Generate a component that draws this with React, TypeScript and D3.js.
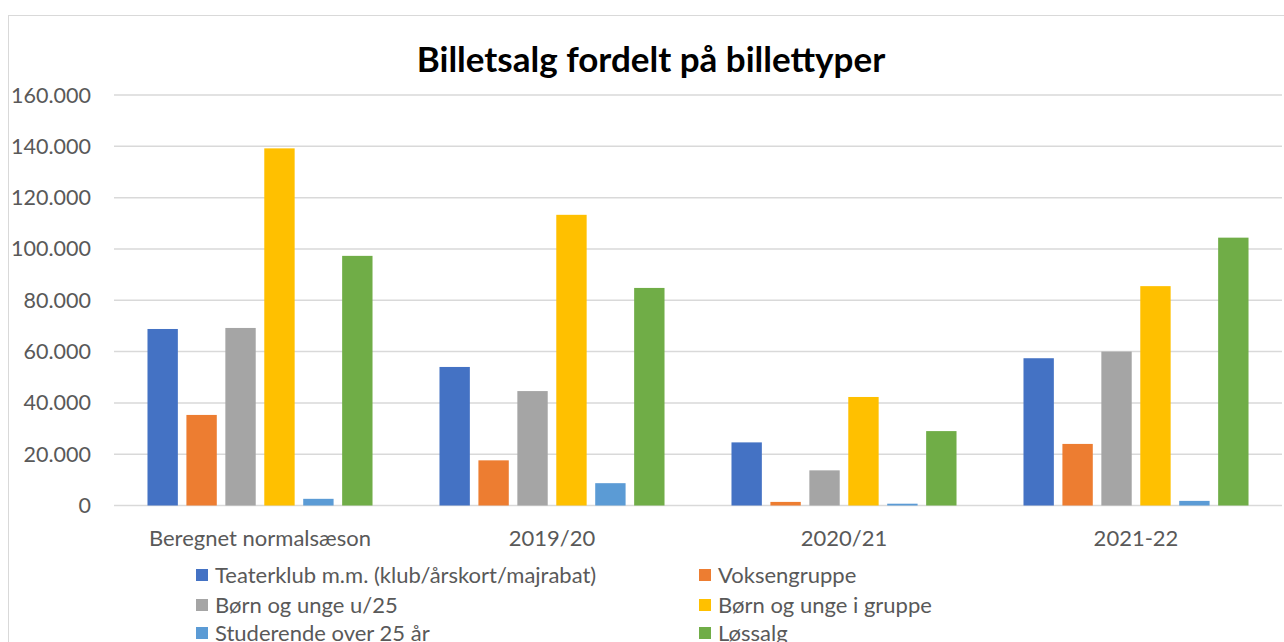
import { useMemo } from "react";
import * as d3 from "d3";

const WIDTH = 1284;
const HEIGHT = 642;

const categories = ["Beregnet normalsæson", "2019/20", "2020/21", "2021-22"];

const seriesNames = [
  "Teaterklub m.m. (klub/årskort/majrabat)",
  "Voksengruppe",
  "Børn og unge u/25",
  "Børn og unge i gruppe",
  "Studerende over 25 år",
  "Løssalg",
];

const teaterklub = [68800, 54000, 24600, 57400];
const voksengruppe = [35300, 17600, 1400, 24000];
const bornUnge = [69200, 44600, 13700, 60000];
const bornGruppe = [139200, 113300, 42300, 85500];
const studerende = [2600, 8700, 700, 1800];
const lossalg = [97300, 84800, 29000, 104400];

const seriesValues = [teaterklub, voksengruppe, bornUnge, bornGruppe, studerende, lossalg];

const yTicks = [0, 20000, 40000, 60000, 80000, 100000, 120000, 140000, 160000];

const colors = ["#4472c4", "#ed7d31", "#a5a5a5", "#ffc000", "#5b9bd5", "#70ad47"];

const FONT = "Lato, 'Open Sans', sans-serif";
const TEXT_COLOR = "#595959";

const fmt = (v: number) => (v === 0 ? "0" : d3.format(",")(v).replace(/,/g, "."));

export default function App() {
  const plot = { left: 114, right: 1282, top: 95, bottom: 505.5 };

  const x0 = useMemo(
    () =>
      d3.scaleBand<string>().domain(categories).range([plot.left, plot.right]).paddingInner(0.2).paddingOuter(0.1),
    []
  );
  const x1 = useMemo(
    () =>
      d3
        .scaleBand<string>()
        .domain(seriesNames)
        .range([0, x0.bandwidth()])
        .paddingInner(0.22)
        .paddingOuter(0.11),
    [x0]
  );
  const y = useMemo(() => d3.scaleLinear().domain([0, 160000]).range([plot.bottom, plot.top]), []);

  const legendRows = [575, 605, 633];
  const legendCols = [196, 699];

  return (
    <svg
      width={WIDTH}
      height={HEIGHT}
      style={{ position: "absolute", left: 0, top: 0, background: "#fff" }}
    >
      <rect x={8.5} y={15.5} width={1400} height={800} fill="#fff" stroke="#d9d9d9" strokeWidth={1} />

      <text
        x={651}
        y={72}
        textAnchor="middle"
        fontFamily={FONT}
        fontWeight="bold"
        fontSize={35}
        fill="#000"
      >
        Billetsalg fordelt på billettyper
      </text>

      {yTicks.map((t) => (
        <g key={t}>
          <line x1={plot.left} x2={plot.right} y1={y(t)} y2={y(t)} stroke="#d9d9d9" strokeWidth={1.5} />
          <text
            x={91}
            y={y(t)}
            dy="0.35em"
            textAnchor="end"
            fontFamily={FONT}
            fontSize={21.5}
            fill={TEXT_COLOR}
          >
            {fmt(t)}
          </text>
        </g>
      ))}

      {categories.map((c, ci) => (
        <g key={c} transform={`translate(${x0(c)},0)`}>
          {seriesNames.map((s, si) => {
            const v = seriesValues[si][ci];
            return (
              <rect
                key={s}
                x={x1(s)}
                y={y(v)}
                width={x1.bandwidth()}
                height={y(0) - y(v)}
                fill={colors[si]}
              />
            );
          })}
          <text
            x={x0.bandwidth() / 2}
            y={538}
            dy="0.35em"
            textAnchor="middle"
            fontFamily={FONT}
            fontSize={22}
            fill={TEXT_COLOR}
          >
            {c}
          </text>
        </g>
      ))}

      {seriesNames.map((s, i) => {
        const cx = legendCols[i % 2];
        const cy = legendRows[Math.floor(i / 2)];
        return (
          <g key={s}>
            <rect x={cx} y={cy - 6} width={12} height={12} fill={colors[i]} />
            <text x={cx + 19} y={cy} dy="0.35em" fontFamily={FONT} fontSize={22} fill={TEXT_COLOR}>
              {s}
            </text>
          </g>
        );
      })}
    </svg>
  );
}
